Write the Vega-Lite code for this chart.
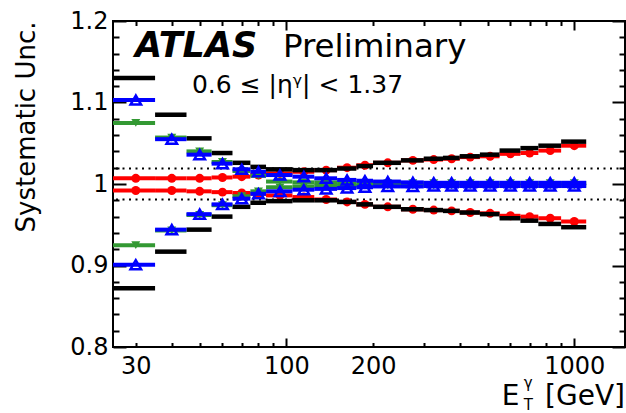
{
  "$schema": "https://vega.github.io/schema/vega-lite/v6.json",
  "width": 512,
  "height": 326,
  "autosize": {"type": "none"},
  "padding": {"left": 113, "top": 21, "right": 1, "bottom": 66},
  "background": "white",
  "config": {
    "view": {"stroke": "black", "strokeWidth": 2},
    "axis": {"grid": false, "domain": false, "tickColor": "black", "tickWidth": 2, "labelColor": "black", "labelFont": "DejaVu Sans", "titleFont": "DejaVu Sans", "titleColor": "black", "titleFontWeight": "normal", "labelFlush": false, "labelOverlap": false}
  },
  "datasets": {
    "bins": [
      {"s": "black", "lo": 25, "hi": 35, "c": 30, "up": 1.130, "dn": 0.872},
      {"s": "black", "lo": 35, "hi": 45, "c": 40, "up": 1.085, "dn": 0.917},
      {"s": "black", "lo": 45, "hi": 55, "c": 50, "up": 1.056, "dn": 0.944},
      {"s": "black", "lo": 55, "hi": 65, "c": 60, "up": 1.038, "dn": 0.960},
      {"s": "black", "lo": 65, "hi": 75, "c": 70, "up": 1.026, "dn": 0.972},
      {"s": "black", "lo": 75, "hi": 85, "c": 80, "up": 1.021, "dn": 0.977},
      {"s": "black", "lo": 85, "hi": 105, "c": 95, "up": 1.018, "dn": 0.979},
      {"s": "black", "lo": 105, "hi": 125, "c": 115, "up": 1.017, "dn": 0.980},
      {"s": "black", "lo": 125, "hi": 150, "c": 137.5, "up": 1.017, "dn": 0.980},
      {"s": "black", "lo": 150, "hi": 175, "c": 162.5, "up": 1.019, "dn": 0.978},
      {"s": "black", "lo": 175, "hi": 200, "c": 187.5, "up": 1.022, "dn": 0.975},
      {"s": "black", "lo": 200, "hi": 250, "c": 225, "up": 1.026, "dn": 0.972},
      {"s": "black", "lo": 250, "hi": 300, "c": 275, "up": 1.029, "dn": 0.969},
      {"s": "black", "lo": 300, "hi": 350, "c": 325, "up": 1.031, "dn": 0.968},
      {"s": "black", "lo": 350, "hi": 400, "c": 375, "up": 1.032, "dn": 0.967},
      {"s": "black", "lo": 400, "hi": 470, "c": 435, "up": 1.034, "dn": 0.965},
      {"s": "black", "lo": 470, "hi": 550, "c": 510, "up": 1.036, "dn": 0.963},
      {"s": "black", "lo": 550, "hi": 650, "c": 600, "up": 1.041, "dn": 0.958},
      {"s": "black", "lo": 650, "hi": 750, "c": 700, "up": 1.044, "dn": 0.955},
      {"s": "black", "lo": 750, "hi": 900, "c": 825, "up": 1.047, "dn": 0.951},
      {"s": "black", "lo": 900, "hi": 1100, "c": 1000, "up": 1.052, "dn": 0.947},

      {"s": "red", "lo": 25, "hi": 35, "c": 30, "up": 1.007, "dn": 0.992},
      {"s": "red", "lo": 35, "hi": 45, "c": 40, "up": 1.007, "dn": 0.992},
      {"s": "red", "lo": 45, "hi": 55, "c": 50, "up": 1.007, "dn": 0.991},
      {"s": "red", "lo": 55, "hi": 65, "c": 60, "up": 1.008, "dn": 0.990},
      {"s": "red", "lo": 65, "hi": 75, "c": 70, "up": 1.009, "dn": 0.989},
      {"s": "red", "lo": 75, "hi": 85, "c": 80, "up": 1.011, "dn": 0.988},
      {"s": "red", "lo": 85, "hi": 105, "c": 95, "up": 1.013, "dn": 0.986},
      {"s": "red", "lo": 105, "hi": 125, "c": 115, "up": 1.015, "dn": 0.984},
      {"s": "red", "lo": 125, "hi": 150, "c": 137.5, "up": 1.017, "dn": 0.981},
      {"s": "red", "lo": 150, "hi": 175, "c": 162.5, "up": 1.020, "dn": 0.978},
      {"s": "red", "lo": 175, "hi": 200, "c": 187.5, "up": 1.023, "dn": 0.975},
      {"s": "red", "lo": 200, "hi": 250, "c": 225, "up": 1.026, "dn": 0.972},
      {"s": "red", "lo": 250, "hi": 300, "c": 275, "up": 1.029, "dn": 0.969},
      {"s": "red", "lo": 300, "hi": 350, "c": 325, "up": 1.030, "dn": 0.968},
      {"s": "red", "lo": 350, "hi": 400, "c": 375, "up": 1.031, "dn": 0.967},
      {"s": "red", "lo": 400, "hi": 470, "c": 435, "up": 1.033, "dn": 0.965},
      {"s": "red", "lo": 470, "hi": 550, "c": 510, "up": 1.034, "dn": 0.964},
      {"s": "red", "lo": 550, "hi": 650, "c": 600, "up": 1.037, "dn": 0.961},
      {"s": "red", "lo": 650, "hi": 750, "c": 700, "up": 1.038, "dn": 0.960},
      {"s": "red", "lo": 750, "hi": 900, "c": 825, "up": 1.041, "dn": 0.958},
      {"s": "red", "lo": 900, "hi": 1100, "c": 1000, "up": 1.047, "dn": 0.954},

      {"s": "green", "lo": 25, "hi": 35, "c": 30, "up": 1.075, "dn": 0.925},
      {"s": "green", "lo": 35, "hi": 45, "c": 40, "up": 1.057, "dn": 0.943},
      {"s": "green", "lo": 45, "hi": 55, "c": 50, "up": 1.040, "dn": 0.962},
      {"s": "green", "lo": 55, "hi": 65, "c": 60, "up": 1.027, "dn": 0.974},
      {"s": "green", "lo": 65, "hi": 75, "c": 70, "up": 1.016, "dn": 0.985},
      {"s": "green", "lo": 75, "hi": 85, "c": 80, "up": 1.010, "dn": 0.991},
      {"s": "green", "lo": 85, "hi": 105, "c": 95, "up": 1.003, "dn": 0.996},
      {"s": "green", "lo": 105, "hi": 125, "c": 115, "up": 1.002, "dn": 0.997},
      {"s": "green", "lo": 125, "hi": 150, "c": 137.5, "up": 1.002, "dn": 0.998},
      {"s": "green", "lo": 150, "hi": 175, "c": 162.5, "up": 1.001, "dn": 0.998},
      {"s": "green", "lo": 175, "hi": 200, "c": 187.5, "up": 1.001, "dn": 0.998},
      {"s": "green", "lo": 200, "hi": 250, "c": 225, "up": 1.001, "dn": 0.998},
      {"s": "green", "lo": 250, "hi": 300, "c": 275, "up": 1.001, "dn": 0.998},
      {"s": "green", "lo": 300, "hi": 350, "c": 325, "up": 1.001, "dn": 0.998},
      {"s": "green", "lo": 350, "hi": 400, "c": 375, "up": 1.001, "dn": 0.998},
      {"s": "green", "lo": 400, "hi": 470, "c": 435, "up": 1.001, "dn": 0.998},
      {"s": "green", "lo": 470, "hi": 550, "c": 510, "up": 1.001, "dn": 0.998},
      {"s": "green", "lo": 550, "hi": 650, "c": 600, "up": 1.001, "dn": 0.998},
      {"s": "green", "lo": 650, "hi": 750, "c": 700, "up": 1.001, "dn": 0.998},
      {"s": "green", "lo": 750, "hi": 900, "c": 825, "up": 1.001, "dn": 0.998},
      {"s": "green", "lo": 900, "hi": 1100, "c": 1000, "up": 1.001, "dn": 0.998},

      {"s": "blue", "lo": 25, "hi": 35, "c": 30, "up": 1.103, "dn": 0.901},
      {"s": "blue", "lo": 35, "hi": 45, "c": 40, "up": 1.055, "dn": 0.944},
      {"s": "blue", "lo": 45, "hi": 55, "c": 50, "up": 1.036, "dn": 0.963},
      {"s": "blue", "lo": 55, "hi": 65, "c": 60, "up": 1.025, "dn": 0.975},
      {"s": "blue", "lo": 65, "hi": 75, "c": 70, "up": 1.018, "dn": 0.982},
      {"s": "blue", "lo": 75, "hi": 85, "c": 80, "up": 1.015, "dn": 0.988},
      {"s": "blue", "lo": 85, "hi": 105, "c": 95, "up": 1.011, "dn": 0.991},
      {"s": "blue", "lo": 105, "hi": 125, "c": 115, "up": 1.009, "dn": 0.993},
      {"s": "blue", "lo": 125, "hi": 150, "c": 137.5, "up": 1.007, "dn": 0.994},
      {"s": "blue", "lo": 150, "hi": 175, "c": 162.5, "up": 1.005, "dn": 0.995},
      {"s": "blue", "lo": 175, "hi": 200, "c": 187.5, "up": 1.004, "dn": 0.996},
      {"s": "blue", "lo": 200, "hi": 250, "c": 225, "up": 1.003, "dn": 0.997},
      {"s": "blue", "lo": 250, "hi": 300, "c": 275, "up": 1.002, "dn": 0.997},
      {"s": "blue", "lo": 300, "hi": 350, "c": 325, "up": 1.0015, "dn": 0.9975},
      {"s": "blue", "lo": 350, "hi": 400, "c": 375, "up": 1.0015, "dn": 0.9975},
      {"s": "blue", "lo": 400, "hi": 470, "c": 435, "up": 1.0015, "dn": 0.9975},
      {"s": "blue", "lo": 470, "hi": 550, "c": 510, "up": 1.0015, "dn": 0.9975},
      {"s": "blue", "lo": 550, "hi": 650, "c": 600, "up": 1.0015, "dn": 0.9975},
      {"s": "blue", "lo": 650, "hi": 750, "c": 700, "up": 1.0015, "dn": 0.9975},
      {"s": "blue", "lo": 750, "hi": 900, "c": 825, "up": 1.0015, "dn": 0.9975},
      {"s": "blue", "lo": 900, "hi": 1100, "c": 1000, "up": 1.0015, "dn": 0.9975}
    ]
  },
  "resolve": {"axis": {"x": "independent", "y": "independent"}},
  "layer": [
    {
      "data": {"values": [{"lumi": 1.019}, {"lumi": 0.981}]},
      "mark": {"type": "rule", "color": "black", "strokeWidth": 2, "strokeDash": [2, 4.5]},
      "encoding": {
        "y": {"field": "lumi", "type": "quantitative", "scale": {"domain": [0.8, 1.2], "zero": false, "nice": false},
          "axis": {"orient": "left", "values": [0.8, 0.9, 1, 1.1, 1.2], "format": "~g", "ticks": false, "labelFontSize": 24, "labelPadding": 5, "title": "Systematic Unc.", "titleFontSize": 26, "titleAnchor": "end", "titlePadding": 30}}
      }
    },
    {
      "data": {"name": "bins"},
      "transform": [{"filter": "datum.s === 'red'"}, {"fold": ["up", "dn"], "as": ["k", "v"]}],
      "mark": {"type": "rule", "color": "#ff0000", "strokeWidth": 4},
      "encoding": {
        "x": {"field": "lo", "type": "quantitative", "scale": {"type": "log", "domain": [25, 1500], "nice": false},
          "axis": {"orient": "bottom", "values": [30, 100, 200, 1000], "format": "d", "ticks": false, "labelFontSize": 24, "labelPadding": 7, "title": null}},
        "x2": {"field": "hi"},
        "y": {"field": "v", "type": "quantitative", "scale": {"domain": [0.8, 1.2], "zero": false, "nice": false},
          "axis": {"orient": "left", "values": [0.82, 0.84, 0.86, 0.88, 0.92, 0.94, 0.96, 0.98, 1.02, 1.04, 1.06, 1.08, 1.12, 1.14, 1.16, 1.18], "labels": false, "tickSize": -6, "title": null}}
      }
    },
    {
      "data": {"name": "bins"},
      "transform": [{"filter": "datum.s === 'red'"}, {"fold": ["up", "dn"], "as": ["k", "v"]}],
      "mark": {"type": "point", "shape": "circle", "filled": true, "color": "#ff0000", "size": 80, "opacity": 1},
      "encoding": {
        "x": {"field": "c", "type": "quantitative", "scale": {"type": "log", "domain": [25, 1500], "nice": false},
          "axis": {"orient": "bottom", "values": [100, 1000], "labels": false, "tickSize": -9, "title": null}},
        "y": {"field": "v", "type": "quantitative", "scale": {"domain": [0.8, 1.2], "zero": false, "nice": false},
          "axis": {"orient": "left", "values": [0.8, 0.9, 1, 1.1, 1.2], "labels": false, "tickSize": -13, "title": null}}
      }
    },
    {
      "data": {"name": "bins"},
      "transform": [{"filter": "datum.s === 'black'"}, {"fold": ["up", "dn"], "as": ["k", "v"]}],
      "mark": {"type": "rule", "color": "black", "strokeWidth": 4.5},
      "encoding": {
        "x": {"field": "lo", "type": "quantitative", "scale": {"type": "log", "domain": [25, 1500], "nice": false},
          "axis": {"orient": "bottom", "values": [30, 40, 50, 60, 70, 80, 90, 200, 300, 400, 500, 600, 700, 800, 900], "labels": false, "tickSize": -4.5, "title": null}},
        "x2": {"field": "hi"},
        "y": {"field": "v", "type": "quantitative", "scale": {"domain": [0.8, 1.2], "zero": false, "nice": false},
          "axis": {"orient": "right", "values": [0.8, 0.9, 1, 1.1, 1.2], "labels": false, "tickSize": -13, "title": null}}
      }
    },
    {
      "data": {"name": "bins"},
      "transform": [{"filter": "datum.s === 'green'"}, {"fold": ["up", "dn"], "as": ["k", "v"]}],
      "mark": {"type": "rule", "color": "#339933", "strokeWidth": 4},
      "encoding": {
        "x": {"field": "lo", "type": "quantitative", "scale": {"type": "log", "domain": [25, 1500], "nice": false},
          "axis": {"orient": "top", "values": [100, 1000], "labels": false, "tickSize": -9, "title": null}},
        "x2": {"field": "hi"},
        "y": {"field": "v", "type": "quantitative", "scale": {"domain": [0.8, 1.2], "zero": false, "nice": false},
          "axis": {"orient": "right", "values": [0.82, 0.84, 0.86, 0.88, 0.92, 0.94, 0.96, 0.98, 1.02, 1.04, 1.06, 1.08, 1.12, 1.14, 1.16, 1.18], "labels": false, "tickSize": -6, "title": null}}
      }
    },
    {
      "data": {"name": "bins"},
      "transform": [{"filter": "datum.s === 'green'"}, {"fold": ["up", "dn"], "as": ["k", "v"]}],
      "mark": {"type": "point", "shape": "triangle-down", "filled": true, "color": "#339933", "size": 80, "opacity": 1},
      "encoding": {
        "x": {"field": "c", "type": "quantitative", "scale": {"type": "log", "domain": [25, 1500], "nice": false},
          "axis": {"orient": "top", "values": [30, 40, 50, 60, 70, 80, 90, 200, 300, 400, 500, 600, 700, 800, 900], "labels": false, "tickSize": -4.5, "title": null}},
        "y": {"field": "v", "type": "quantitative", "scale": {"domain": [0.8, 1.2], "zero": false, "nice": false}, "axis": null}
      }
    },
    {
      "data": {"name": "bins"},
      "transform": [{"filter": "datum.s === 'blue'"}, {"fold": ["up", "dn"], "as": ["k", "v"]}],
      "mark": {"type": "rule", "color": "#0000ff", "strokeWidth": 4},
      "encoding": {
        "x": {"field": "lo", "type": "quantitative", "scale": {"type": "log", "domain": [25, 1500], "nice": false}, "axis": null},
        "x2": {"field": "hi"},
        "y": {"field": "v", "type": "quantitative", "scale": {"domain": [0.8, 1.2], "zero": false, "nice": false}, "axis": null}
      }
    },
    {
      "data": {"name": "bins"},
      "transform": [{"filter": "datum.s === 'blue'"}, {"fold": ["up", "dn"], "as": ["k", "v"]}],
      "mark": {"type": "point", "shape": "triangle-up", "filled": false, "color": "#0000ff", "strokeWidth": 2.5, "size": 110, "opacity": 1},
      "encoding": {
        "x": {"field": "c", "type": "quantitative", "scale": {"type": "log", "domain": [25, 1500], "nice": false}, "axis": null},
        "y": {"field": "v", "type": "quantitative", "scale": {"domain": [0.8, 1.2], "zero": false, "nice": false}, "axis": null}
      }
    },
    {
      "data": {"values": [{"x": 29.8, "y": 1.1558, "t": "ATLAS"}]},
      "mark": {"type": "text", "font": "DejaVu Sans", "fontSize": 35, "fontWeight": "bold", "fontStyle": "italic", "align": "left", "baseline": "alphabetic", "color": "black"},
      "encoding": {
        "x": {"field": "x", "type": "quantitative", "scale": {"type": "log", "domain": [25, 1500], "nice": false}, "axis": null},
        "y": {"field": "y", "type": "quantitative", "scale": {"domain": [0.8, 1.2], "zero": false, "nice": false}, "axis": null},
        "text": {"field": "t"}
      }
    },
    {
      "data": {"values": [{"x": 97.3, "y": 1.1558, "t": "Preliminary"}]},
      "mark": {"type": "text", "font": "DejaVu Sans", "fontSize": 32.5, "align": "left", "baseline": "alphabetic", "color": "black"},
      "encoding": {
        "x": {"field": "x", "type": "quantitative", "scale": {"type": "log", "domain": [25, 1500], "nice": false}, "axis": null},
        "y": {"field": "y", "type": "quantitative", "scale": {"domain": [0.8, 1.2], "zero": false, "nice": false}, "axis": null},
        "text": {"field": "t"}
      }
    },
    {
      "data": {"values": [{"x": 47.0, "y": 1.1117, "t": "0.6 ≤ |ηᵞ| < 1.37"}]},
      "mark": {"type": "text", "font": "DejaVu Sans", "fontSize": 25, "align": "left", "baseline": "alphabetic", "color": "black"},
      "encoding": {
        "x": {"field": "x", "type": "quantitative", "scale": {"type": "log", "domain": [25, 1500], "nice": false}, "axis": null},
        "y": {"field": "y", "type": "quantitative", "scale": {"domain": [0.8, 1.2], "zero": false, "nice": false}, "axis": null},
        "text": {"field": "t"}
      }
    },
    {
      "data": {"values": [{"x": 560, "y": 0.7288, "t": "E"}]},
      "mark": {"type": "text", "font": "DejaVu Sans", "fontSize": 28, "align": "left", "baseline": "alphabetic", "color": "black"},
      "encoding": {
        "x": {"field": "x", "type": "quantitative", "scale": {"type": "log", "domain": [25, 1500], "nice": false}, "axis": null},
        "y": {"field": "y", "type": "quantitative", "scale": {"domain": [0.8, 1.2], "zero": false, "nice": false}, "axis": null},
        "text": {"field": "t"}
      }
    },
    {
      "data": {"values": [{"x": 668, "y": 0.7497, "t": "γ"}, {"x": 668, "y": 0.7227, "t": "T"}]},
      "mark": {"type": "text", "font": "DejaVu Sans", "fontSize": 15, "align": "left", "baseline": "alphabetic", "color": "black"},
      "encoding": {
        "x": {"field": "x", "type": "quantitative", "scale": {"type": "log", "domain": [25, 1500], "nice": false}, "axis": null},
        "y": {"field": "y", "type": "quantitative", "scale": {"domain": [0.8, 1.2], "zero": false, "nice": false}, "axis": null},
        "text": {"field": "t"}
      }
    },
    {
      "data": {"values": [{"x": 1500, "y": 0.7288, "t": "[GeV]"}]},
      "mark": {"type": "text", "font": "DejaVu Sans", "fontSize": 28, "align": "right", "baseline": "alphabetic", "color": "black"},
      "encoding": {
        "x": {"field": "x", "type": "quantitative", "scale": {"type": "log", "domain": [25, 1500], "nice": false}, "axis": null},
        "y": {"field": "y", "type": "quantitative", "scale": {"domain": [0.8, 1.2], "zero": false, "nice": false}, "axis": null},
        "text": {"field": "t"}
      }
    }
  ]
}
